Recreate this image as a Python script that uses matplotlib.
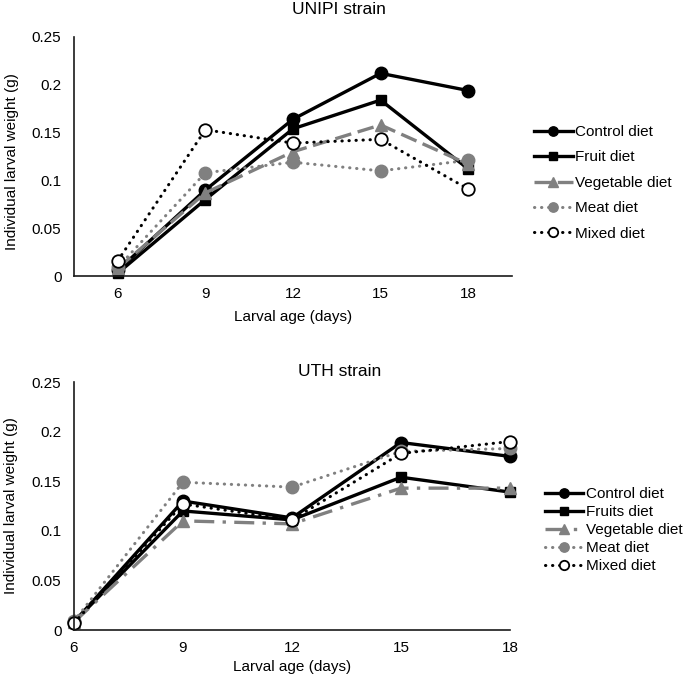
import matplotlib
matplotlib.use('Agg')
import matplotlib.pyplot as plt

plt.rcParams['font.family'] = ['Liberation Sans', 'DejaVu Sans']

days = [6, 9, 12, 15, 18]
x_tick_labels = ['6', '9', '12', '15', '18']
yticks = [0, 0.05, 0.1, 0.15, 0.2, 0.25]
ytick_labels = ['0', '0.05', '0.1', '0.15', '0.2', '0.25']

names_top = ['Control diet', 'Fruit diet', 'Vegetable diet', 'Meat diet', 'Mixed diet']
names_bottom = ['Control diet', 'Fruits diet', 'Vegetable diet', 'Meat diet', 'Mixed diet']

unipi_control = [0.006, 0.090, 0.164, 0.212, 0.194]
unipi_fruit = [0.003, 0.080, 0.154, 0.184, 0.112]
unipi_vegetable = [0.008, 0.087, 0.130, 0.158, 0.117]
unipi_meat = [0.009, 0.108, 0.119, 0.110, 0.121]
unipi_mixed = [0.016, 0.153, 0.139, 0.143, 0.091]

uth_control = [0.008, 0.130, 0.113, 0.189, 0.175]
uth_fruit = [0.008, 0.120, 0.111, 0.154, 0.139]
uth_vegetable = [0.008, 0.110, 0.107, 0.143, 0.143]
uth_meat = [0.009, 0.149, 0.144, 0.180, 0.183]
uth_mixed = [0.007, 0.127, 0.111, 0.178, 0.190]

GRAY = '#808080'
W, H = 685, 676

def styles(veg_ls):
    return [
        dict(color='black', lw=2.4, ls='-', marker='o', ms=9, mfc='black', mec='black'),
        dict(color='black', lw=2.4, ls='-', marker='s', ms=7.5, mfc='black', mec='black'),
        dict(color=GRAY, lw=2.4, ls=veg_ls, marker='^', ms=9, mfc=GRAY, mec=GRAY),
        dict(color=GRAY, lw=2.2, ls=(0, (0.1, 2.2)), dash_capstyle='round',
             marker='o', ms=9, mfc=GRAY, mec=GRAY),
        dict(color='black', lw=2.2, ls=(0, (0.1, 2.2)), dash_capstyle='round',
             marker='o', ms=9, mfc='white', mec='black', mew=1.3),
    ]

fig = plt.figure(figsize=(W / 100, H / 100), dpi=100)

def setup(ax, xlim):
    ax.set_xlim(*xlim)
    ax.set_ylim(0, 0.25)
    ax.set_yticks(yticks)
    ax.set_yticklabels(ytick_labels)
    ax.set_xticks(days)
    ax.set_xticklabels(x_tick_labels)
    for s in ['top', 'right']:
        ax.spines[s].set_visible(False)
    for s in ['left', 'bottom']:
        ax.spines[s].set_linewidth(1.2)
        ax.spines[s].set_color('#1a1a1a')
    ax.tick_params(axis='y', length=0, labelsize=11, pad=9)
    ax.tick_params(axis='x', length=0, labelsize=11, pad=8)
    ax.patch.set_alpha(0)

# Top panel
ax1 = fig.add_axes([74 / W, 1 - 276 / H, (512 - 74) / W, (276 - 37) / H])
setup(ax1, (4.5, 19.5))
top_series = [unipi_control, unipi_fruit, unipi_vegetable, unipi_meat, unipi_mixed]
lines1 = []
for vals, name, st in zip(top_series, names_top, styles((0, (5, 2)))):
    ln, = ax1.plot(days, vals, label=name, clip_on=False, **st)
    lines1.append(ln)

# Bottom panel
ax2 = fig.add_axes([74 / W, 1 - 630 / H, (510 - 74) / W, (630 - 382) / H])
setup(ax2, (6, 18))
bottom_series = [uth_control, uth_fruit, uth_vegetable, uth_meat, uth_mixed]
lines2 = []
for vals, name, st in zip(bottom_series, names_bottom, styles((0, (6, 2.5, 1, 2.5)))):
    ln, = ax2.plot(days, vals, label=name, clip_on=False, **st)
    lines2.append(ln)

# Titles and axis labels
fig.text(339 / W, 1 - 10 / H, 'UNIPI strain', ha='center', va='center', fontsize=12.5)
fig.text(340 / W, 1 - 372 / H, 'UTH strain', ha='center', va='center', fontsize=12.5)
fig.text(293 / W, 1 - 317 / H, 'Larval age (days)', ha='center', va='center', fontsize=11)
fig.text(292 / W, 1 - 667 / H, 'Larval age (days)', ha='center', va='center', fontsize=11)
fig.text(12 / W, 1 - 162 / H, 'Individual larval weight (g)', ha='center', va='center',
         rotation=90, fontsize=11)
fig.text(11 / W, 1 - 506 / H, 'Individual larval weight (g)', ha='center', va='center',
         rotation=90, fontsize=11)

# Legends
fig.legend(lines1, names_top, loc='upper left', bbox_to_anchor=(534 / W, 1 - 125 / H),
           frameon=False, borderpad=0, borderaxespad=0, handlelength=2.55,
           handletextpad=0.15, labelspacing=0.75, fontsize=11, markerscale=0.75)
fig.legend(lines2, names_bottom, loc='upper left', bbox_to_anchor=(545 / W, 1 - 487 / H),
           frameon=False, borderpad=0, borderaxespad=0, handlelength=2.5,
           handletextpad=0.2, labelspacing=0.27, fontsize=11, markerscale=0.75)

fig.savefig('out.png', dpi=100)
